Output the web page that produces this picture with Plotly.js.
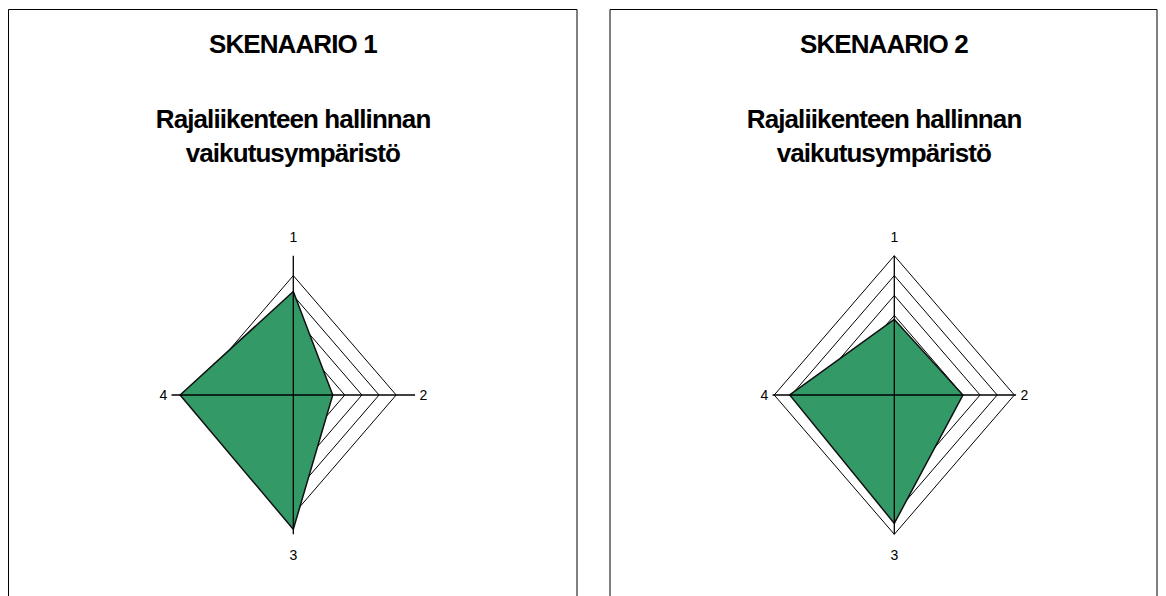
<!DOCTYPE html>
<html>
<head>
<meta charset="utf-8">
<script src="https://cdn.plot.ly/plotly-3.0.1.min.js"></script>
<style>
html,body{margin:0;padding:0;background:#fff;}
#chart{width:1166px;height:596px;}
#chart .annotation-text{letter-spacing:-0.9px;}
</style>
</head>
<body>
<div id="chart"></div>
<script>
// ---- data ----
const axisLabels = ['1', '2', '3', '4'];
const scenario1Values = [5.2, 2.3, 6.75, 6.6];
const scenario2Values = [3.8, 4.0, 6.45, 6.1];
const scenario1Rings = [1, 2, 3, 4, 5, 6];
const scenario2Rings = [1, 2, 3, 4, 5, 6, 7];
const axisMax = 7;
const scenarioTitles = ['SKENAARIO 1', 'SKENAARIO 2'];
const subtitleLine1 = 'Rajaliikenteen hallinnan';
const subtitleLine2 = 'vaikutusympäristö';

// ---- helpers ----
const W = 1166, H = 596;
const FONT = 'Liberation Sans, Arial, Helvetica, sans-serif';
function radar(values) {
  const xs = [], ys = [];
  const n = values.length;
  for (let i = 0; i <= n; i++) {
    const k = i % n;
    const th = 2 * Math.PI * k / n;
    xs.push(+(values[k] * Math.sin(th)).toFixed(6));
    ys.push(+(values[k] * Math.cos(th)).toFixed(6));
  }
  return {x: xs, y: ys};
}
function px2x(p) { return p / W; }
function px2y(p) { return 1 - p / H; }

const charts = [
  {values: scenario1Values, rings: scenario1Rings, xa: 'x', ya: 'y', cx: 293.3},
  {values: scenario2Values, rings: scenario2Rings, xa: 'x2', ya: 'y2', cx: 894.3}
];
const unitX = 17.15, unitY = 19.9, cy = 395;
const xr = 8, yr = 9;

const traces = [];
const annotations = [];
charts.forEach((c, ci) => {
  c.rings.forEach(r => {
    const p = radar(axisLabels.map(() => r));
    traces.push({type: 'scatter', mode: 'lines', x: p.x, y: p.y, xaxis: c.xa, yaxis: c.ya,
      line: {color: '#000', width: 1}, hoverinfo: 'skip'});
  });
  const p = radar(c.values);
  traces.push({type: 'scatter', mode: 'lines', x: p.x, y: p.y, xaxis: c.xa, yaxis: c.ya,
    fill: 'toself', fillcolor: '#339966', line: {color: '#111', width: 1.5}, name: scenarioTitles[ci]});
  // spokes
  const ext = axisMax + 0.1;
  traces.push({type: 'scatter', mode: 'lines', x: [0, 0, null, -ext, ext], y: [-axisMax, axisMax, null, 0, 0],
    xaxis: c.xa, yaxis: c.ya, line: {color: '#000', width: 1.3}, hoverinfo: 'skip'});
  // axis labels
  const shifts = [[0, 19], [10, 0], [0, -21], [-10, 0]];
  axisLabels.forEach((lab, i) => {
    const th = 2 * Math.PI * i / axisLabels.length;
    annotations.push({xref: c.xa, yref: c.ya, x: axisMax * Math.sin(th), y: axisMax * Math.cos(th),
      text: lab, showarrow: false, xanchor: 'center', yanchor: 'middle',
      xshift: shifts[i][0], yshift: shifts[i][1], font: {family: FONT, size: 14, color: '#000'}});
  });
});

const panelCenters = [292.7, 883.5];
const panels = [[8.5, 577], [610, 1157]];
const titleFont = {family: FONT, size: 26, weight: 'bold', color: '#000'};
panelCenters.forEach((pc, i) => {
  annotations.push({xref: 'paper', yref: 'paper', x: px2x(pc), y: px2y(44.4), text: scenarioTitles[i],
    showarrow: false, xanchor: 'center', yanchor: 'middle', font: titleFont});
  annotations.push({xref: 'paper', yref: 'paper', x: px2x(pc), y: px2y(118.8), text: subtitleLine1,
    showarrow: false, xanchor: 'center', yanchor: 'middle', font: titleFont});
  annotations.push({xref: 'paper', yref: 'paper', x: px2x(pc), y: px2y(153.4), text: subtitleLine2,
    showarrow: false, xanchor: 'center', yanchor: 'middle', font: titleFont});
});

const shapes = panels.map(p => ({type: 'rect', xref: 'paper', yref: 'paper',
  x0: px2x(p[0]), x1: px2x(p[1]), y0: px2y(620), y1: px2y(9.5), line: {color: '#000', width: 1}, fillcolor: 'rgba(0,0,0,0)'}));

function ax(domain, range) {
  return {domain: domain, range: range, showgrid: false, zeroline: false, showticklabels: false,
    showline: false, ticks: '', fixedrange: true};
}
const yDom = [px2y(cy + yr * unitY), px2y(cy - yr * unitY)];
const layout = {
  width: W, height: H, margin: {l: 0, r: 0, t: 0, b: 0},
  paper_bgcolor: '#fff', plot_bgcolor: 'rgba(0,0,0,0)', showlegend: false,
  xaxis: ax([px2x(charts[0].cx - xr * unitX), px2x(charts[0].cx + xr * unitX)], [-xr, xr]),
  yaxis: ax(yDom, [-yr, yr]),
  xaxis2: Object.assign(ax([px2x(charts[1].cx - xr * unitX), px2x(charts[1].cx + xr * unitX)], [-xr, xr]), {anchor: 'y2'}),
  yaxis2: Object.assign(ax(yDom, [-yr, yr]), {anchor: 'x2'}),
  annotations: annotations, shapes: shapes
};
Plotly.newPlot('chart', traces, layout, {displayModeBar: false, staticPlot: true});
</script>
</body>
</html>
